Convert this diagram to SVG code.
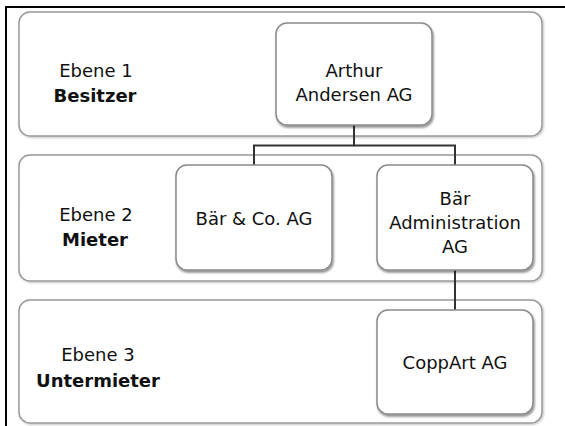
<svg xmlns="http://www.w3.org/2000/svg" width="565" height="426" viewBox="0 0 565 426">
<defs>
<filter id="sh" x="-10%" y="-10%" width="130%" height="130%">
<feGaussianBlur in="SourceAlpha" stdDeviation="1.2"/>
<feOffset dx="1" dy="2" result="b"/>
<feComponentTransfer><feFuncA type="linear" slope="0.45"/></feComponentTransfer>
<feMerge><feMergeNode/><feMergeNode in="SourceGraphic"/></feMerge>
</filter>
<filter id="psh" x="-5%" y="-10%" width="110%" height="130%">
<feGaussianBlur in="SourceAlpha" stdDeviation="1"/>
<feOffset dx="0.5" dy="1" result="b"/>
<feComponentTransfer><feFuncA type="linear" slope="0.25"/></feComponentTransfer>
<feMerge><feMergeNode/><feMergeNode in="SourceGraphic"/></feMerge>
</filter>
</defs>
<style>
.panel{fill:#fff;stroke:#9a9a9a;stroke-width:1.5}
.box{fill:#fff;stroke:#8a8a8a;stroke-width:1.5}
text{font-family:"DejaVu Sans","Liberation Sans",sans-serif;font-size:18px;fill:#111;text-anchor:middle}
.b{font-weight:bold}
.conn{fill:none;stroke:#333;stroke-width:2}
</style>
<rect x="0" y="0" width="565" height="426" fill="#fff"/>
<line x1="5" y1="7" x2="565" y2="7" stroke="#000" stroke-width="2"/>
<line x1="6" y1="6" x2="6" y2="426" stroke="#000" stroke-width="2"/>
<g id="level1">
<rect class="panel" x="19" y="12" width="523" height="124" rx="11" filter="url(#psh)"/>
<text x="96" y="77">Ebene 1</text>
<text class="b" x="95" y="102">Besitzer</text>
</g>
<g id="level2">
<rect class="panel" x="19" y="155" width="523" height="126" rx="11" filter="url(#psh)"/>
<text x="96" y="221">Ebene 2</text>
<text class="b" x="95" y="246">Mieter</text>
</g>
<g id="level3">
<rect class="panel" x="19" y="300" width="523" height="123" rx="11" filter="url(#psh)"/>
<text x="98" y="361">Ebene 3</text>
<text class="b" x="98" y="387">Untermieter</text>
</g>
<g id="connectors">
<polyline class="conn" points="354,125 354,145.5 254,145.5 254,165"/>
<polyline class="conn" points="354,145.5 455,145.5 455,165"/>
<line class="conn" x1="455" y1="270" x2="455" y2="310"/>
</g>
<g id="arthur">
<rect class="box" x="276" y="23" width="156" height="102" rx="11" filter="url(#sh)"/>
<text x="354" y="77">Arthur</text>
<text x="354" y="101">Andersen AG</text>
</g>
<g id="baer-co">
<rect class="box" x="176" y="165" width="156" height="105" rx="11" filter="url(#sh)"/>
<text x="254" y="225">Bär &amp; Co. AG</text>
</g>
<g id="baer-admin">
<rect class="box" x="377" y="165" width="156" height="105" rx="11" filter="url(#sh)"/>
<text x="455" y="205">Bär</text>
<text x="455" y="229">Administration</text>
<text x="455" y="253">AG</text>
</g>
<g id="coppart">
<rect class="box" x="377" y="310" width="156" height="104" rx="11" filter="url(#sh)"/>
<text x="455" y="369">CoppArt AG</text>
</g>
</svg>
